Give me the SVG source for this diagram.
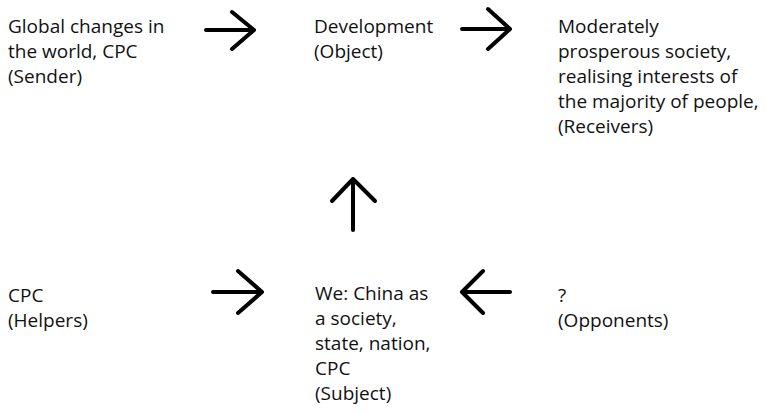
<svg xmlns="http://www.w3.org/2000/svg" width="766" height="413" viewBox="0 0 766 413">
<style>
text{font-family:"Open Sans","Liberation Sans",Arial,sans-serif;font-size:19px;fill:#111}
.a{fill:none;stroke:#000;stroke-width:4;stroke-linecap:round;stroke-linejoin:round}
</style>
<rect width="766" height="413" fill="#fff"/>
<g id="sender"><text x="8" y="33">Global changes in</text><text x="8" y="58">the world, CPC</text><text x="8" y="83">(Sender)</text></g>
<g id="object"><text x="314" y="33">Development</text><text x="314" y="58">(Object)</text></g>
<g id="receivers"><text x="558" y="33">Moderately</text><text x="558" y="58">prosperous society,</text><text x="558" y="83">realising interests of</text><text x="558" y="108">the majority of people,</text><text x="558" y="133">(Receivers)</text></g>
<g id="helpers"><text x="8" y="302">CPC</text><text x="8" y="327">(Helpers)</text></g>
<g id="subject"><text x="315" y="300">We: China as</text><text x="315" y="325">a society,</text><text x="315" y="350">state, nation,</text><text x="315" y="375">CPC</text><text x="315" y="400">(Subject)</text></g>
<g id="opponents"><text x="558" y="302">?</text><text x="558" y="327">(Opponents)</text></g>
<g id="connectors" class="a">
<path d="M206 30H254M232 12L254 30L232 49"/>
<path d="M462 29H510M488 9L510 29L488 49"/>
<path d="M353 230V179M332 201L353 179L375 201"/>
<path d="M510 292H462M483 271L462 292L483 313"/>
<path d="M213 292H262M238 271L262 292L238 313"/>
</g>
</svg>
